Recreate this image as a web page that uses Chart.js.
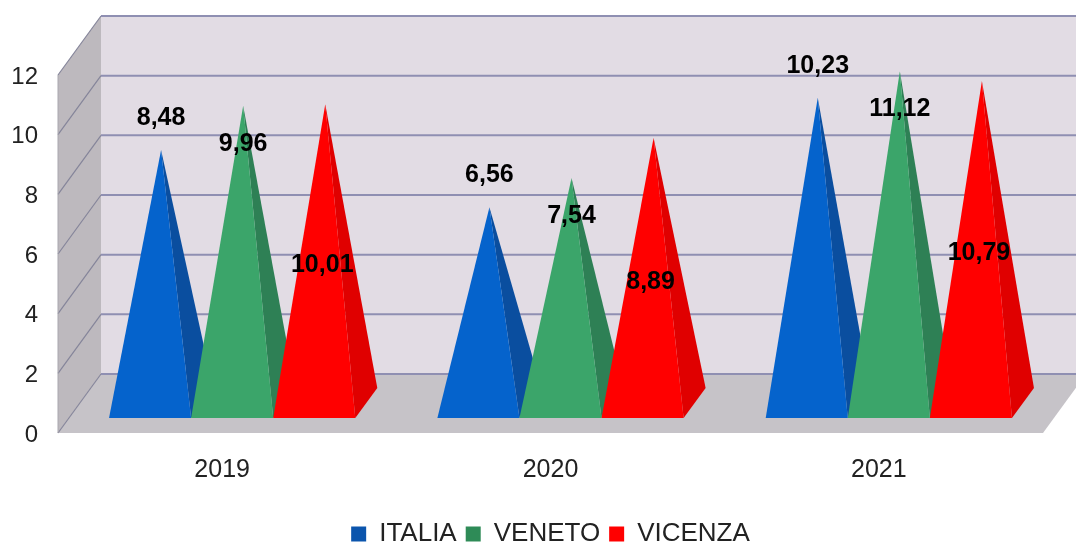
<!DOCTYPE html>
<html>
<head>
<meta charset="utf-8">
<title>Italia Veneto Vicenza</title>
<script src="https://cdn.jsdelivr.net/npm/chart.js@4"></script>
<style>
  html, body { margin: 0; background: #fff; }
  #box { width: 1076px; height: 544px; }
</style>
</head>
<body>
<div id="box"><canvas id="pyramidChart"></canvas></div>
<script>
const years = ["2019", "2020", "2021"];
const seriesNames = ["ITALIA", "VENETO", "VICENZA"];
const italia = [8.48, 6.56, 10.23];
const veneto = [9.96, 7.54, 11.12];
const vicenza = [10.01, 8.89, 10.79];

const frontColors = ["#0563cc", "#3ba56a", "#ff0000"];
const sideColors = ["#0a4e9f", "#2e8055", "#e00000"];
const legendColors = ["#0b55ad", "#2e8b57", "#ff0000"];

const FONT = '"Liberation Sans", Arial, sans-serif';

// how far the back wall sits from the front of the box
const WALL_DX = 43;
const WALL_DY = -59;
// pyramids stand a bit in from the front edge
const BASE_DX = 10;
const BASE_DY = -15;
const PYR_DX = 22;
const PYR_DY = -30;

function poly(ctx, pts, fill) {
    ctx.beginPath();
    ctx.moveTo(pts[0][0], pts[0][1]);
    for (let i = 1; i < pts.length; i++) ctx.lineTo(pts[i][0], pts[i][1]);
    ctx.closePath();
    ctx.fillStyle = fill;
    ctx.fill();
}

function line(ctx, x1, y1, x2, y2, color, width) {
    ctx.beginPath();
    ctx.moveTo(x1, y1);
    ctx.lineTo(x2, y2);
    ctx.strokeStyle = color;
    ctx.lineWidth = width;
    ctx.stroke();
}

const box3d = {
    id: "box3d",
    beforeDatasetsDraw(chart) {
        const ctx = chart.ctx;
        const a = chart.chartArea;
        const y = chart.scales.y;
        const d = WALL_DX, h = WALL_DY;
        ctx.save();
        poly(ctx, [[a.left + d, a.top + h], [a.right + d, a.top + h], [a.right + d, a.bottom + h], [a.left + d, a.bottom + h]], "#e2dce4");
        poly(ctx, [[a.left, a.top], [a.left + d, a.top + h], [a.left + d, a.bottom + h], [a.left, a.bottom]], "#bdb9be");
        poly(ctx, [[a.left, a.bottom], [a.left + d, a.bottom + h], [a.right + d, a.bottom + h], [a.right, a.bottom]], "#c6c3c8");
        y.ticks.forEach(t => {
            const py = y.getPixelForValue(t.value);
            line(ctx, a.left, py, a.left + d, py + h, "#85859a", 1.2);
            line(ctx, a.left + d, py + h, a.right + d, py + h, "#8f8fb2", 2);
        });
        line(ctx, a.left, a.top, a.left, a.bottom, "#a9a7ae", 1);
        ctx.restore();
    },
    afterDatasetsDraw(chart) {
        const ctx = chart.ctx;
        const y = chart.scales.y;
        const zero = y.getPixelForValue(0);
        ctx.save();
        chart.data.datasets.forEach((ds, i) => {
            chart.getDatasetMeta(i).data.forEach((bar, j) => {
                const w = bar.width / 2;
                const cx = bar.x + BASE_DX;
                const by = zero + BASE_DY;
                // value height is measured from the middle of the base
                const tipX = cx + PYR_DX / 2;
                const tipY = by + PYR_DY / 2 - (zero - y.getPixelForValue(ds.data[j]));
                poly(ctx, [[cx + w, by], [cx + w + PYR_DX, by + PYR_DY], [tipX, tipY]], sideColors[i]);
                poly(ctx, [[cx - w, by], [cx + w, by], [tipX, tipY]], frontColors[i]);
            });
        });
        ctx.font = "bold 25px " + FONT;
        ctx.fillStyle = "#000";
        ctx.textAlign = "center";
        ctx.textBaseline = "middle";
        chart.data.datasets.forEach((ds, i) => {
            chart.getDatasetMeta(i).data.forEach((bar, j) => {
                const by = zero + BASE_DY;
                const tipX = bar.x + BASE_DX + PYR_DX / 2;
                const tipY = by + PYR_DY / 2 - (zero - y.getPixelForValue(ds.data[j]));
                const text = ds.data[j].toFixed(2).replace(".", ",");
                if (i === 0) ctx.fillText(text, tipX, tipY - 32);
                if (i === 1) ctx.fillText(text, tipX, tipY + 38);
                if (i === 2) ctx.fillText(text, tipX - 3, (tipY + by) / 2 + 4);
            });
        });
        ctx.restore();
    }
};

new Chart(document.getElementById("pyramidChart"), {
    type: "bar",
    data: {
        labels: years,
        datasets: [
            { label: seriesNames[0], data: italia, backgroundColor: "transparent" },
            { label: seriesNames[1], data: veneto, backgroundColor: "transparent" },
            { label: seriesNames[2], data: vicenza, backgroundColor: "transparent" }
        ]
    },
    options: {
        responsive: true,
        maintainAspectRatio: false,
        animation: false,
        layout: { padding: { top: 75, right: 33, left: 0, bottom: -13 } },
        datasets: { bar: { categoryPercentage: 0.75, barPercentage: 1 } },
        scales: {
            x: {
                grid: { display: false },
                border: { display: false },
                ticks: { color: "#222", font: { family: FONT, size: 25 }, padding: 14 },
                afterFit(scale) { scale.height = 79; }
            },
            y: {
                min: 0,
                max: 12,
                grid: { display: false },
                border: { display: false },
                ticks: { stepSize: 2, color: "#222", font: { family: FONT, size: 24 }, padding: 12, labelOffset: 2 },
                afterFit(scale) { scale.width = 58; }
            }
        },
        plugins: {
            tooltip: { enabled: false },
            legend: {
                position: "bottom",
                fullSize: false,
                labels: {
                    color: "#222",
                    boxWidth: 15,
                    boxHeight: 15,
                    padding: 9,
                    font: { family: FONT, size: 26 },
                    generateLabels(chart) {
                        return chart.data.datasets.map((ds, i) => ({
                            text: ds.label,
                            fillStyle: legendColors[i],
                            strokeStyle: legendColors[i],
                            lineWidth: 0,
                            fontColor: "#222",
                            datasetIndex: i
                        }));
                    }
                }
            }
        }
    },
    plugins: [box3d]
});
</script>
</body>
</html>
